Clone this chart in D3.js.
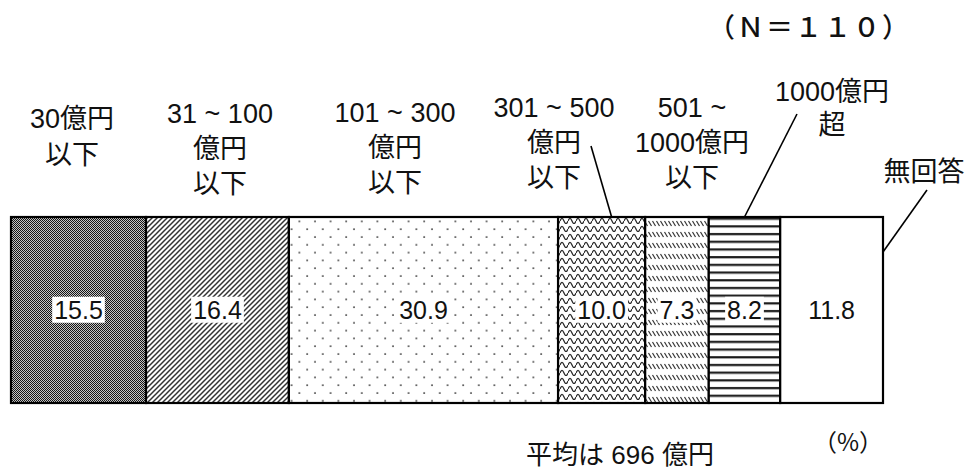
<!DOCTYPE html>
<html>
<head>
<meta charset="utf-8">
<script src="https://cdn.jsdelivr.net/npm/d3@7/dist/d3.min.js"></script>
<style>
  html, body { margin: 0; padding: 0; background: #fff; }
  svg { display: block; }
  text { font-family: "Liberation Sans", Arial, "Noto Sans CJK JP", sans-serif; fill: #111; }
</style>
</head>
<body>
<svg id="chart" width="971" height="471"></svg>
<script>
// Capital-size bands (億円), each label split into its display lines
const categories = [
  ["30億円", "以下"],
  ["31 ~ 100", "億円", "以下"],
  ["101 ~ 300", "億円", "以下"],
  ["301 ~ 500", "億円", "以下"],
  ["501 ~", "1000億円", "以下"],
  ["1000億円", "超"],
  ["無回答"]
];
// Share of respondents (%)
const shares = [15.5, 16.4, 30.9, 10.0, 7.3, 8.2, 11.8];
const sampleNote = "（Ｎ＝１１０）";
const averageNote = "平均は 696 億円";
const unitNote = "（%）";

// Fill pattern used for each band
const fills = ["checker", "diag", "dots", "wave", "dash", "hline", "blank"];

// Label placement: centre x and first baseline for each category block
const labelLayout = [
  { x: 72,  y: 128, lh: 36 },
  { x: 220, y: 123, lh: 35 },
  { x: 395, y: 122, lh: 35 },
  { x: 554, y: 117, lh: 35 },
  { x: 692, y: 117, lh: 35 },
  { x: 832, y: 101, lh: 33 },
  { x: 924, y: 181, lh: 35 }
];
// Leader lines from a label to its band
const leaders = [
  { seg: 3, from: [591, 146], at: "top", dx: 10 },
  { seg: 5, from: [797, 114], at: "top", dx: 0 },
  { seg: 6, from: [927, 190], at: "right", dy: 35 }
];

const svg = d3.select("#chart");
const bar = { left: 11, right: 883, top: 217, bottom: 403 };

const total = d3.sum(shares);
const x = d3.scaleLinear().domain([0, total]).range([bar.left, bar.right]);
const y = d3.scaleBand().domain(["all"]).range([bar.top, bar.bottom]).padding(0);

const starts = d3.cumsum([0, ...shares.slice(0, -1)]);
const segs = shares.map((v, i) => ({ v, i, x0: starts[i], x1: starts[i] + v, fill: fills[i] }));

// ---- patterns ----
const defs = svg.append("defs");

const pChecker = defs.append("pattern").attr("id", "checker")
  .attr("patternUnits", "userSpaceOnUse").attr("width", 2).attr("height", 2);
pChecker.append("rect").attr("width", 2).attr("height", 2).attr("fill", "#c4c4c4");
pChecker.append("rect").attr("width", 1).attr("height", 1).attr("fill", "#141414");
pChecker.append("rect").attr("x", 1).attr("y", 1).attr("width", 1).attr("height", 1).attr("fill", "#141414");

const pDiag = defs.append("pattern").attr("id", "diag")
  .attr("patternUnits", "userSpaceOnUse").attr("width", 5).attr("height", 5);
pDiag.append("rect").attr("width", 5).attr("height", 5).attr("fill", "#fff");
pDiag.append("path").attr("d", "M0,5 L5,0 M-1,1 L1,-1 M4,6 L6,4")
  .attr("stroke", "#333").attr("stroke-width", 1.5);

const pDots = defs.append("pattern").attr("id", "dots")
  .attr("patternUnits", "userSpaceOnUse").attr("width", 15.6).attr("height", 15.6);
pDots.append("rect").attr("width", 15.6).attr("height", 15.6).attr("fill", "#fff");
pDots.append("circle").attr("cx", 3).attr("cy", 3).attr("r", 0.9).attr("fill", "#222");
pDots.append("circle").attr("cx", 10.8).attr("cy", 10.8).attr("r", 0.9).attr("fill", "#222");

const pWave = defs.append("pattern").attr("id", "wave")
  .attr("patternUnits", "userSpaceOnUse").attr("width", 8).attr("height", 8);
pWave.append("rect").attr("width", 8).attr("height", 8).attr("fill", "#fff");
pWave.append("path").attr("d", "M0,5 C1.5,1.5 2.5,1.5 4,5 C5.5,8.5 6.5,8.5 8,5")
  .attr("fill", "none").attr("stroke", "#2a2a2a").attr("stroke-width", 1.3);

const pDash = defs.append("pattern").attr("id", "dash")
  .attr("patternUnits", "userSpaceOnUse").attr("width", 4).attr("height", 11);
pDash.append("rect").attr("width", 4).attr("height", 11).attr("fill", "#fff");
pDash.append("path").attr("d", "M0.5,1 L3.5,6")
  .attr("stroke", "#333").attr("stroke-width", 1.2);

const pH = defs.append("pattern").attr("id", "hline")
  .attr("patternUnits", "userSpaceOnUse").attr("width", 8).attr("height", 7.7);
pH.append("rect").attr("width", 8).attr("height", 7.7).attr("fill", "#fff");
pH.append("rect").attr("y", 2).attr("width", 8).attr("height", 2.2).attr("fill", "#1a1a1a");

// ---- stacked bar ----
svg.append("g").selectAll("rect").data(segs).join("rect")
  .attr("x", d => x(d.x0))
  .attr("y", y("all"))
  .attr("width", d => x(d.x1) - x(d.x0))
  .attr("height", y.bandwidth())
  .attr("fill", d => d.fill === "blank" ? "#fff" : `url(#${d.fill})`)
  .attr("stroke", "#000")
  .attr("stroke-width", 2.2);

// ---- value labels with white backing ----
const vals = svg.append("g").selectAll("g").data(segs).join("g")
  .attr("transform", d => `translate(${(x(d.x0) + x(d.x1)) / 2},${y("all") + y.bandwidth() / 2})`);
vals.append("text")
  .attr("text-anchor", "middle")
  .attr("dy", "0.35em")
  .style("font-size", "25px")
  .text(d => d.v.toFixed(1));
vals.each(function() {
  const g = d3.select(this);
  const bb = g.select("text").node().getBBox();
  g.insert("rect", "text")
    .attr("x", bb.x - 2).attr("y", bb.y + 1)
    .attr("width", bb.width + 4).attr("height", bb.height - 2)
    .attr("fill", "#fff");
});

// ---- category labels ----
const labels = svg.append("g").selectAll("text").data(categories).join("text")
  .attr("text-anchor", "middle")
  .style("font-size", "27px")
  .attr("x", (d, i) => labelLayout[i].x)
  .attr("y", (d, i) => labelLayout[i].y);
labels.selectAll("tspan").data((d, i) => d.map(s => ({ s, i }))).join("tspan")
  .attr("x", d => labelLayout[d.i].x)
  .attr("dy", (d, j) => j === 0 ? 0 : labelLayout[d.i].lh)
  .text(d => d.s);

// ---- leader lines ----
svg.append("g").selectAll("line").data(leaders).join("line")
  .attr("x1", d => d.from[0])
  .attr("y1", d => d.from[1])
  .attr("x2", d => d.at === "top" ? x((segs[d.seg].x0 + segs[d.seg].x1) / 2) + d.dx : x(segs[d.seg].x1))
  .attr("y2", d => d.at === "top" ? y("all") : y("all") + d.dy)
  .attr("stroke", "#000").attr("stroke-width", 1.6);

// ---- notes ----
svg.append("text").attr("x", 911).attr("y", 37).attr("text-anchor", "end")
  .style("font-family", "'Noto Sans CJK JP', sans-serif")
  .style("font-weight", 500)
  .style("letter-spacing", "2px")
  .style("font-size", "27px").text(sampleNote);
svg.append("text").attr("x", 620).attr("y", 464).attr("text-anchor", "middle")
  .style("font-size", "26px").text(averageNote);
svg.append("text").attr("x", 848).attr("y", 451).attr("text-anchor", "middle")
  .style("font-family", "'Noto Sans CJK JP', sans-serif")
  .style("font-size", "24px").text(unitNote);
</script>
</body>
</html>
